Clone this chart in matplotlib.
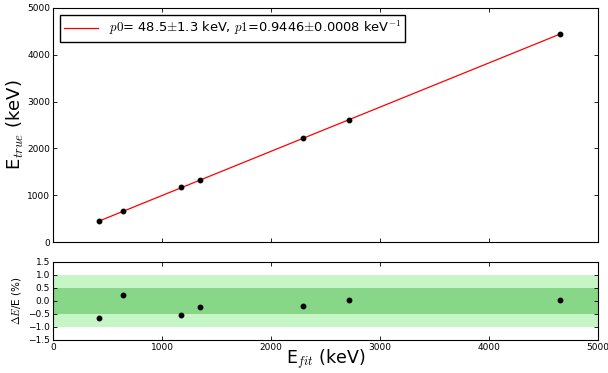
import numpy as np
import matplotlib
matplotlib.use('Agg')
import matplotlib.pyplot as plt

# Calibration data
e_fit = [422, 642, 1176, 1349, 2296, 2716, 4651]      # keV, fitted peak position
e_true = [440, 662, 1173, 1332, 2223, 2614, 4439]     # keV, true line energy
resid = [-0.67, 0.22, -0.55, -0.25, -0.19, 0.04, 0.04]  # Delta E / E in %

p0, p1 = 48.5, 0.9446
fit_label = r'$p0$= 48.5$\pm$1.3 keV, $p1$=0.9446$\pm$0.0008 keV$^{-1}$'

plt.rcParams['mathtext.fontset'] = 'cm'
plt.rcParams['font.family'] = 'DejaVu Sans'

fig = plt.figure(figsize=(6.08, 3.73), dpi=100)
ax1 = fig.add_axes([0.0872, 0.3512, 0.8964, 0.6274])
ax2 = fig.add_axes([0.0872, 0.0885, 0.8964, 0.2099])

# top panel: points and linear fit
xfit = np.array([min(e_fit), max(e_fit)])
ax1.plot(xfit, p0 + p1 * xfit, color='red', lw=0.9, label=fit_label)
ax1.plot(e_fit, e_true, 'o', color='black', ms=3.2)
ax1.set_xlim(0, 5000)
ax1.set_ylim(0, 5000)
ax1.set_xticks(range(0, 5001, 1000))
ax1.set_yticks(range(0, 5001, 1000))
ax1.set_xticklabels([])
ax1.set_ylabel(r'E$_{true}$ (keV)', fontsize=13)
ax1.yaxis.set_label_coords(-0.05, 0.5)
leg = ax1.legend(loc='upper left', fontsize=9.4, fancybox=False, handlelength=2.6,
                 borderpad=0.35, framealpha=1, borderaxespad=0.5)
leg.get_frame().set_edgecolor('black')

# bottom panel: residuals with bands
ax2.axhspan(-1.0, 1.0, color='#c6f5c6', lw=0)
ax2.axhspan(-0.5, 0.5, color='#88d688', lw=0)
ax2.plot(e_fit, resid, 'o', color='black', ms=3.2)
ax2.set_xlim(0, 5000)
ax2.set_ylim(-1.5, 1.5)
ax2.set_xticks(range(0, 5001, 1000))
ax2.set_yticks(np.arange(-1.5, 1.51, 0.5))
ax2.set_ylabel(r'$\Delta E$/E (%)', fontsize=7.5)
ax2.set_xlabel(r'E$_{fit}$ (keV)', fontsize=12.5, labelpad=-2.5)

for ax in (ax1, ax2):
    ax.tick_params(direction='in', top=True, right=True, labelsize=6.5, length=3,
                   width=0.6, pad=2)
    for s in ax.spines.values():
        s.set_linewidth(0.8)

fig.savefig('out.png', dpi=100)
